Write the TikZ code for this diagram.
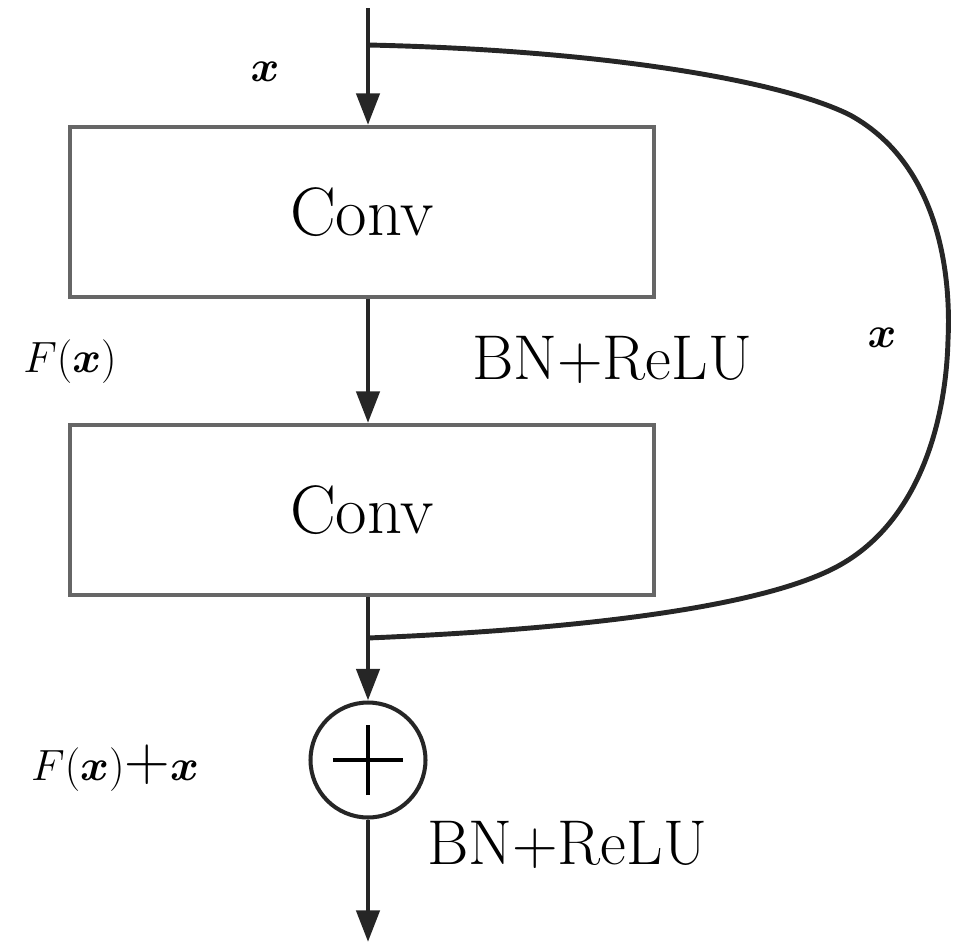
\documentclass[tikz,border=0pt]{standalone}
\usepackage{bm}
\usetikzlibrary{arrows.meta}
\begin{document}
\begin{tikzpicture}[x=0.02cm,y=-0.02cm,
  box/.style={draw=black!60,line width=2.3pt,minimum width=11.7cm,minimum height=3.4cm,inner sep=0pt,font=\fontsize{39}{44}\selectfont},
  lbl/.style={font=\fontsize{36}{40}\selectfont,inner sep=0pt},
  arr/.style={line width=2.8pt,draw=black!85,-{Triangle[length=18pt,width=13pt]}},
  ln/.style={line width=2.8pt,draw=black!85}]
\useasboundingbox (0,0) rectangle (968,944);
\node[box] (c1) at (362,212) {Conv};
\node[box] (c2) at (362,510) {Conv};
\node[circle,draw=black!85,line width=2.3pt,minimum size=2.3cm,inner sep=0pt] (s) at (368,760) {};
\draw[line width=2.3pt] ([xshift=-20pt]s.center) -- ([xshift=20pt]s.center) ([yshift=-20pt]s.center) -- ([yshift=20pt]s.center);
\coordinate (top) at (368,8);
\coordinate (sp) at (368,45);
\coordinate (jn) at (368,638);
\coordinate (out) at (368,942);
\draw[arr] (top) -- (top |- c1.north);
\draw[arr] (top |- c1.south) -- (top |- c2.north);
\draw[ln] (top |- c2.south) -- (jn);
\draw[arr] (jn) -- (s.north);
\draw[arr] (s.south) -- (out);
\draw[ln] (sp) .. controls (600,50) and (780,80) .. (850,115) .. controls (950,170) and (950,300) .. (948,340)
  .. controls (946,420) and (920,520) .. (840,565) .. controls (760,610) and (560,630) .. (jn);
\node[lbl] (l1) at (265,72) {$\bm{x}$};
\node[lbl] (l2) at (70,362) {$F(\bm{x})$};
\node[lbl] (l3) at (612,360) {BN+ReLU};
\node[lbl] (l4) at (882,338) {$\bm{x}$};
\node[lbl] (l5) at (115,768) {$F(\bm{x})$+$\bm{x}$};
\node[lbl] (l6) at (567,845) {BN+ReLU};
\end{tikzpicture}
\end{document}
